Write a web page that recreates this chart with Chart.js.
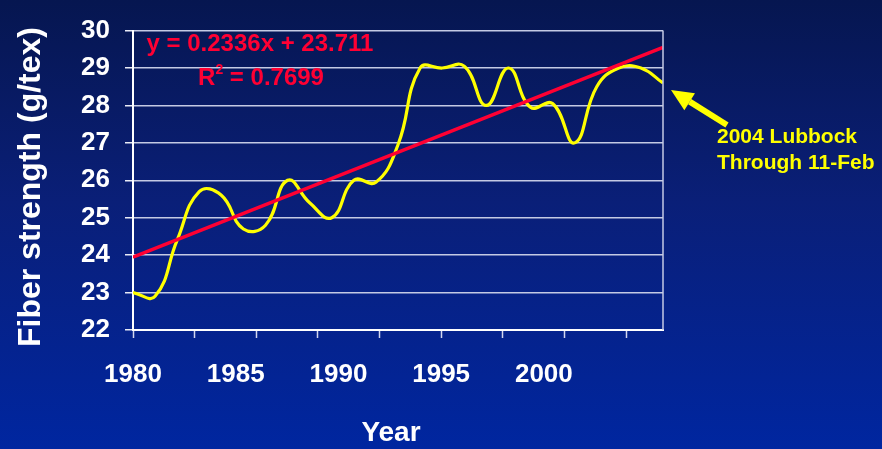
<!DOCTYPE html>
<html>
<head>
<meta charset="utf-8">
<script src="https://cdn.jsdelivr.net/npm/chart.js@4.4.0/dist/chart.umd.min.js"></script>
<style>
  html, body { margin: 0; padding: 0; }
  body {
    width: 882px; height: 449px; overflow: hidden;
    background: linear-gradient(to bottom, #061650 0%, #0a1f78 45%, #0026a0 100%);
  }
  canvas { display: block; }
</style>
</head>
<body>
<canvas id="fiberChart" width="882" height="449"></canvas>
<script>
// Yearly fiber strength
const years = [1980, 1981, 1982, 1983, 1984, 1985, 1986, 1987, 1988, 1989,
  1990, 1991, 1992, 1993, 1994, 1995, 1996, 1997, 1998, 1999,
  2000, 2001, 2002, 2003, 2004];
const strength = [23.0, 22.9, 24.4, 25.7, 25.6, 24.7, 24.8, 26.0, 25.4, 25.0,
  26.0, 25.95, 26.95, 29.0, 29.0, 29.05, 28.0, 29.0, 27.95, 28.05,
  27.0, 28.5, 29.0, 29.0, 28.6];

// Trend line from the Excel fit (x = 1..25)
const trendSlope = 0.2336;
const trendIntercept = 23.711;
const r2 = 0.7699;

// Axis labels
const yearLabels = [1980, 1985, 1990, 1995, 2000];
const yearTickStep = 3;
const yMin = 22, yMax = 30;

const FONT = "'Liberation Sans', Arial, Helvetica, sans-serif";
Chart.defaults.font.family = FONT;
Chart.defaults.font.weight = 'bold';
Chart.defaults.color = '#ffffff';

const trendData = [
  { x: years[0], y: trendIntercept + trendSlope * 1 },
  { x: years[years.length - 1], y: trendIntercept + trendSlope * years.length }
];

const decorations = {
  id: 'decorations',
  afterDraw(chart) {
    const ctx = chart.ctx;
    const area = chart.chartArea;
    ctx.save();

    // right border of plot area
    ctx.strokeStyle = '#c4cae4';
    ctx.lineWidth = 1.5;
    ctx.beginPath();
    ctx.moveTo(area.right, area.top);
    ctx.lineTo(area.right, area.bottom);
    ctx.stroke();

    // trend equation
    ctx.fillStyle = '#ff0033';
    ctx.font = 'bold 24px ' + FONT;
    ctx.textBaseline = 'alphabetic';
    ctx.textAlign = 'center';
    ctx.fillText('y = ' + trendSlope + 'x + ' + trendIntercept, 260, 51);

    const rText = 'R';
    const supText = '2';
    const restText = ' = ' + r2;
    ctx.font = 'bold 24px ' + FONT;
    const wR = ctx.measureText(rText).width;
    const wRest = ctx.measureText(restText).width;
    ctx.font = 'bold 14px ' + FONT;
    const wSup = ctx.measureText(supText).width;
    let x0 = 261 - (wR + wSup + wRest) / 2;
    ctx.textAlign = 'left';
    ctx.font = 'bold 24px ' + FONT;
    ctx.fillText(rText, x0, 85);
    ctx.font = 'bold 14px ' + FONT;
    ctx.fillText(supText, x0 + wR, 74);
    ctx.font = 'bold 24px ' + FONT;
    ctx.fillText(restText, x0 + wR + wSup, 85);

    // axis titles
    ctx.fillStyle = '#ffffff';
    ctx.textAlign = 'center';
    ctx.textBaseline = 'middle';
    ctx.font = 'bold 28px ' + FONT;
    ctx.fillText('Year', 391, 433);
    ctx.save();
    ctx.translate(31, 187);
    ctx.rotate(-Math.PI / 2);
    ctx.font = 'bold 32px ' + FONT;
    ctx.fillText('Fiber strength (g/tex)', 0, 0);
    ctx.restore();

    // arrow to the last point
    const xs = chart.scales.x, ys = chart.scales.y;
    const px = xs.getPixelForValue(years[years.length - 1]);
    const py = ys.getPixelForValue(strength[strength.length - 1]);
    const tipX = px + 8, tipY = py + 7;
    const tailX = px + 64, tailY = py + 42;
    const ang = Math.atan2(tipY - tailY, tipX - tailX);
    const headLen = 22, headW = 10;
    const baseX = tipX - headLen * Math.cos(ang);
    const baseY = tipY - headLen * Math.sin(ang);
    ctx.strokeStyle = '#ffff00';
    ctx.fillStyle = '#ffff00';
    ctx.lineWidth = 6;
    ctx.beginPath();
    ctx.moveTo(tailX, tailY);
    ctx.lineTo(baseX, baseY);
    ctx.stroke();
    ctx.beginPath();
    ctx.moveTo(tipX, tipY);
    ctx.lineTo(baseX + headW * Math.sin(ang), baseY - headW * Math.cos(ang));
    ctx.lineTo(baseX - headW * Math.sin(ang), baseY + headW * Math.cos(ang));
    ctx.closePath();
    ctx.fill();

    // annotation text
    ctx.textAlign = 'left';
    ctx.textBaseline = 'alphabetic';
    ctx.font = 'bold 21px ' + FONT;
    ctx.fillText('2004 Lubbock', 717, 143);
    ctx.fillText('Through 11-Feb', 717, 169);

    ctx.restore();
  }
};

const chart = new Chart(document.getElementById('fiberChart'), {
  type: 'line',
  data: {
    datasets: [
      {
        label: 'Trend',
        data: trendData,
        borderColor: '#ff0033',
        borderWidth: 3.5,
        pointRadius: 0,
        tension: 0,
        order: 0
      },
      {
        label: 'Fiber strength',
        data: years.map((yr, i) => ({ x: yr, y: strength[i] })),
        borderColor: '#ffff00',
        borderWidth: 3.2,
        pointRadius: 0,
        tension: 0.45,
        order: 1
      }
    ]
  },
  options: {
    responsive: false,
    animation: false,
    layout: { padding: { top: 22, right: 219, left: 0, bottom: 0 } },
    plugins: {
      legend: { display: false },
      tooltip: { enabled: false }
    },
    scales: {
      x: {
        type: 'linear',
        display: false,
        min: years[0],
        max: years[years.length - 1]
      },
      xl: {
        type: 'linear',
        position: 'bottom',
        min: years[0],
        max: 2005.8,
        afterFit(scale) { scale.height = 119; },
        grid: {
          drawOnChartArea: false,
          drawTicks: true,
          tickLength: 8,
          tickWidth: 1.5,
          tickColor: (c) => (c.tick && (c.tick.value - years[0]) % yearTickStep === 0) ? '#d4d8ee' : 'rgba(0,0,0,0)'
        },
        border: { display: true, color: '#ffffff', width: 2 },
        ticks: {
          stepSize: 1,
          autoSkip: false,
          maxRotation: 0,
          padding: 21,
          font: { size: 26, weight: 'bold' },
          color: '#ffffff',
          callback: (v) => yearLabels.includes(v) ? String(v) : ''
        }
      },
      y: {
        type: 'linear',
        min: yMin,
        max: yMax,
        afterFit(scale) { scale.width = 133; },
        grid: {
          color: '#c4cae4',
          lineWidth: 1.5,
          drawTicks: true,
          tickLength: 8,
          tickColor: '#e8ebf6'
        },
        border: { display: true, color: '#ffffff', width: 2 },
        ticks: {
          stepSize: 1,
          padding: 15,
          font: { size: 26, weight: 'bold' },
          color: '#ffffff'
        }
      }
    }
  },
  plugins: [decorations]
});
</script>
</body>
</html>
